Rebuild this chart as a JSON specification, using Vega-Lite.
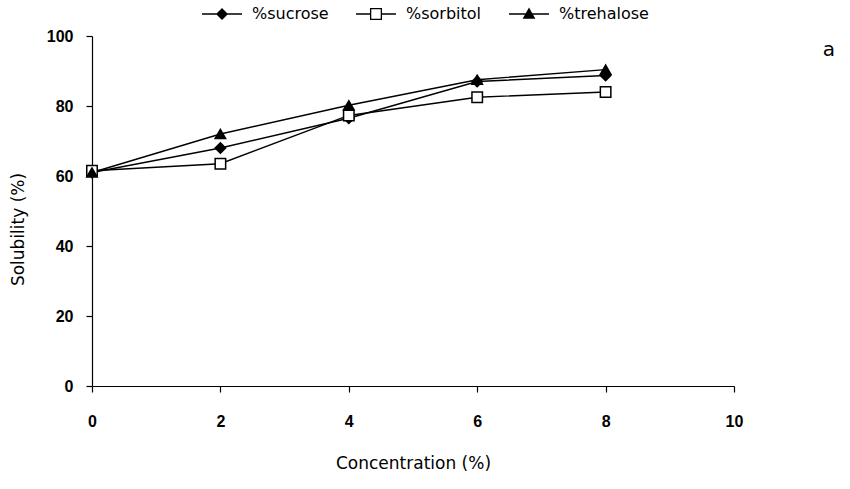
{
  "$schema": "https://vega.github.io/schema/vega-lite/v6.json",
  "width": 642,
  "height": 350,
  "autosize": "none",
  "padding": {"left": 92, "top": 36, "right": 116, "bottom": 103},
  "background": "white",
  "config": {
    "view": {"stroke": null},
    "font": "DejaVu Sans",
    "axis": {
      "domainColor": "black",
      "tickColor": "black",
      "labelColor": "black",
      "titleColor": "black",
      "grid": false,
      "labelFont": "Liberation Sans",
      "labelFontWeight": "bold",
      "titleFont": "DejaVu Sans",
      "labelFontSize": 16,
      "titleFontSize": 17,
      "titleFontWeight": "normal",
      "domainWidth": 1.2,
      "tickWidth": 1.2
    },
    "legend": {"labelFont": "DejaVu Sans", "labelFontSize": 16, "labelColor": "black"},
    "title": {"font": "DejaVu Sans", "fontSize": 20, "fontWeight": "normal", "color": "black"}
  },
  "title": {"text": "a", "anchor": "end", "frame": "group", "dx": 101, "dy": 58, "orient": "top"},
  "data": {
    "values": [
      {"series": "%sucrose", "conc": 0, "sol": 61},
      {"series": "%sucrose", "conc": 2, "sol": 68},
      {"series": "%sucrose", "conc": 4, "sol": 76.5},
      {"series": "%sucrose", "conc": 6, "sol": 87},
      {"series": "%sucrose", "conc": 8, "sol": 88.7},
      {"series": "%sorbitol", "conc": 0, "sol": 61.5},
      {"series": "%sorbitol", "conc": 2, "sol": 63.5},
      {"series": "%sorbitol", "conc": 4, "sol": 77.3},
      {"series": "%sorbitol", "conc": 6, "sol": 82.5},
      {"series": "%sorbitol", "conc": 8, "sol": 84},
      {"series": "%trehalose", "conc": 0, "sol": 61},
      {"series": "%trehalose", "conc": 2, "sol": 72},
      {"series": "%trehalose", "conc": 4, "sol": 80.2},
      {"series": "%trehalose", "conc": 6, "sol": 87.5},
      {"series": "%trehalose", "conc": 8, "sol": 90.4}
    ]
  },
  "encoding": {
    "x": {
      "field": "conc", "type": "quantitative",
      "scale": {"domain": [0, 10], "nice": false},
      "axis": {"values": [0, 2, 4, 6, 8, 10], "title": "Concentration (%)", "tickSize": 6, "labelPadding": 21, "titlePadding": 26, "labelFlush": false}
    },
    "y": {
      "field": "sol", "type": "quantitative",
      "scale": {"domain": [0, 100], "nice": false},
      "axis": {"values": [0, 20, 40, 60, 80, 100], "title": "Solubility (%)", "tickSize": 6, "labelPadding": 13, "titlePadding": 19, "titleY": 193}
    }
  },
  "layer": [
    {
      "mark": {"type": "line", "color": "black", "strokeWidth": 1.4},
      "encoding": {"detail": {"field": "series"}}
    },
    {
      "mark": {"type": "point", "stroke": "black", "strokeWidth": 1.5, "opacity": 1},
      "encoding": {
        "shape": {
          "field": "series", "type": "nominal",
          "scale": {"domain": ["%sucrose", "%sorbitol", "%trehalose"], "range": ["diamond", "square", "triangle-up"]},
          "legend": null
        },
        "fill": {
          "field": "series", "type": "nominal",
          "scale": {"domain": ["%sucrose", "%sorbitol", "%trehalose"], "range": ["black", "white", "black"]},
          "legend": null
        },
        "size": {"value": 110}
      }
    },
    {
      "mark": {"type": "point", "filled": true, "color": "black", "strokeWidth": 0, "opacity": 0},
      "encoding": {
        "shape": {
          "field": "series", "type": "nominal",
          "scale": {"domain": ["%sucrose", "%sorbitol", "%trehalose"], "range": [
            "M-5,-0.18H5V0.18H-5ZM0,-1.5L1.5,0L0,1.5L-1.5,0Z",
            "M-5,-0.18H-1.5V0.18H-5ZM1.5,-0.18H5V0.18H1.5ZM-1.5,-1.5H1.5V1.5H-1.5ZM-1.18,-1.18V1.18H1.18V-1.18Z",
            "M-5,-0.18H5V0.18H-5ZM0,-1.6L1.6,1.2H-1.6Z"
          ]},
          "legend": {
            "title": null,
            "orient": "none",
            "direction": "horizontal",
            "legendX": 122,
            "legendY": -30,
            "symbolSize": 64,
            "symbolStrokeWidth": 0,
            "symbolFillColor": "black",
            "labelOffset": 22,
            "columnPadding": 27,
            "labelFont": "DejaVu Sans",
            "labelFontSize": 16,
            "labelColor": "black",
            "padding": 0,
            "encode": {"symbols": {"update": {"opacity": {"value": 1}}}}
          }
        }
      }
    }
  ],
  "resolve": {"scale": {"shape": "independent", "fill": "independent"}, "legend": {"shape": "independent", "fill": "independent"}}
}
